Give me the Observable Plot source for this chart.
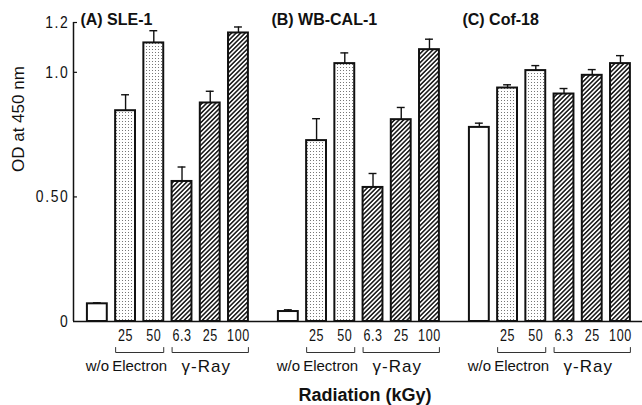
<!DOCTYPE html>
<html><head><meta charset="utf-8">
<script src="https://cdn.jsdelivr.net/npm/d3@7"></script>
<script src="https://cdn.jsdelivr.net/npm/@observablehq/plot@0.6"></script>
<style>
body{margin:0;background:#fff;}
</style></head><body>
<svg width="0" height="0" style="position:absolute">
<defs>
<pattern id="dots" width="3" height="3" patternUnits="userSpaceOnUse">
<rect width="3" height="3" fill="#fff"/>
<rect x="1" y="1" width="1" height="1" fill="#777"/>
</pattern>
<pattern id="hatch" width="3.2" height="3.2" patternUnits="userSpaceOnUse" patternTransform="rotate(45)">
<rect width="3.2" height="3.2" fill="#fff"/>
<line x1="0.8" y1="0" x2="0.8" y2="3.2" stroke="#111" stroke-width="1.5"/>
</pattern>
</defs></svg>
<div id="chart"></div>
<script>
// ---- data ----
const panels = ["A", "B", "C"];
const panelTitles = ["(A) SLE-1", "(B) WB-CAL-1", "(C) Cof-18"];
const doseLabels = ["", "25", "50", "6.3", "25", "100"];
const treatments = ["none", "electron", "electron", "gamma", "gamma", "gamma"];
const odA = [0.071, 0.846, 1.118, 0.562, 0.877, 1.158];
const errA = [0.004, 0.064, 0.049, 0.058, 0.047, 0.024];
const odB = [0.040, 0.726, 1.035, 0.538, 0.810, 1.091];
const errB = [0.007, 0.088, 0.043, 0.056, 0.049, 0.042];
const odC = [0.779, 0.937, 1.007, 0.913, 0.988, 1.035];
const errC = [0.017, 0.013, 0.020, 0.022, 0.023, 0.032];
const yTickValues = [0, 0.5, 1.0, 1.2];
const yTickLabels = ["0", "0.50", "1.0", "1.2"];
const groupNames = {none: "w/o", electron: "Electron", gamma: "γ-Ray"};
const yLabel = "OD at 450 nm";
const xLabel = "Radiation (kGy)";

// ---- build table ----
const ods = [odA, odB, odC], errs = [errA, errB, errC];
const rows = [];
panels.forEach((p, k) => doseLabels.forEach((d, i) => rows.push({
  panel: p, i, dose: d, treatment: treatments[i], od: ods[k][i], err: errs[k][i], top: ods[k][i] + errs[k][i]
})));

const W = 642, H = 405, mT = 22, mB = 84, mL = 72;
const yMax = 1.2;
const pxPerUnit = (H - mT - mB) / yMax;
const half = 0.352;
const xDomain = [-0.845, 5.71];
const regular = "'Liberation Sans',Arial,Helvetica,sans-serif";

const groupRows = [], bracketPts = [];
panels.forEach(p => {
  for (const t of ["none", "electron", "gamma"]) {
    const idx = treatments.map((v, i) => v === t ? i : null).filter(v => v !== null);
    groupRows.push({panel: p, x: d3.mean(idx), label: groupNames[t], t});
    if (t !== "none") {
      const a = d3.min(idx) - half, b = d3.max(idx) + half;
      const tk = -26 / pxPerUnit, ln = -31 / pxPerUnit;
      [[a, tk], [a, ln], [b, ln], [b, tk]].forEach(([x, y]) => bracketPts.push({panel: p, g: p + t, x, y}));
    }
  }
});
const titleRows = panels.map((p, k) => ({panel: p, title: panelTitles[k]}));
const axisRows = [{panel: "A"}];
const innerTicks = yTickValues.filter(v => v > 0).map(v => ({panel: "A", y: v}));

const fills = {none: "white", electron: "url(#dots)", gamma: "url(#hatch)"};

const chart = Plot.plot({
  width: W, height: H,
  marginLeft: mL, marginRight: 0, marginTop: mT, marginBottom: mB,
  style: {fontFamily: regular, background: "white", color: "#111"},
  fx: {domain: panels, paddingInner: 0.03, paddingOuter: 0, axis: null, label: null},
  x: {domain: xDomain, axis: null},
  y: {domain: [0, yMax]},
  marks: [
    ...["none", "electron", "gamma"].map(t => Plot.rect(rows.filter(r => r.treatment === t), {
      fx: "panel", x1: r => r.i - half, x2: r => r.i + half, y1: 0, y2: "od",
      fill: fills[t], stroke: "#111", strokeWidth: 2
    })),
    Plot.ruleX(rows, {fx: "panel", x: "i", y1: "od", y2: "top", stroke: "#111", strokeWidth: 1.4}),
    Plot.ruleY(rows, {fx: "panel", y: "top", x1: r => r.i - 0.14, x2: r => r.i + 0.14, stroke: "#111", strokeWidth: 1.4}),
    Plot.ruleY([0], {stroke: "#111", strokeWidth: 1.5, insetRight: -6}),
    Plot.ruleX(axisRows, {fx: "panel", x: xDomain[0], y1: 0, y2: yMax, stroke: "#111", strokeWidth: 1.5}),
    Plot.ruleY(innerTicks, {fx: "panel", y: "y", x1: xDomain[0], x2: xDomain[0] + 4 / 28.4, stroke: "#111", strokeWidth: 1.2}),
    Plot.axisY(yTickValues, {tickFormat: d => yTickLabels[yTickValues.indexOf(d)], tickSize: 0, tickPadding: 4,
      fontSize: 17, fill: "#111"}),
    Plot.text([{panel: "A", t: yLabel}], {fx: "panel", text: "t", frameAnchor: "left", rotate: -90, dx: -55,
      fontSize: 17, fill: "#111"}),
    Plot.text(titleRows, {fx: "panel", x: -0.6, y: yMax, text: "title", textAnchor: "start", dy: -3,
      fontSize: 16, fontWeight: "bold", fill: "#111"}),
    Plot.text(rows, {fx: "panel", x: "i", y: 0, text: "dose", dy: 14, lineAnchor: "middle",
      fontSize: 17, fill: "#111", ariaDescription: "dose-labels"}),
    Plot.line(bracketPts, {fx: "panel", x: "x", y: "y", z: "g", stroke: "#333", strokeWidth: 1}),
    Plot.text(groupRows.filter(g => g.t !== "gamma"), {fx: "panel", x: "x", y: 0, text: "label", dy: 45, lineAnchor: "middle",
      fontSize: 15, fill: "#111"}),
    Plot.text(groupRows.filter(g => g.t === "gamma"), {fx: "panel", x: "x", y: 0, text: "label", dy: 45, dx: -4,
      lineAnchor: "middle", fontSize: 17, fill: "#111", ariaDescription: "gamma-labels"}),
    Plot.text([{panel: "B", t: xLabel}], {fx: "panel", text: "t", frameAnchor: "bottom", dx: 8, dy: 74,
      lineAnchor: "middle", fontSize: 18, fontWeight: "bold", fill: "#111"})
  ]
});
document.getElementById("chart").appendChild(chart);

// condensed digit style of the original figure
function condense(selector, sx, spacing) {
  chart.querySelectorAll(selector).forEach(t => {
    const tr = t.getAttribute("transform") || "";
    t.setAttribute("transform", (tr + ` scale(${sx},1)`).trim());
    const x = t.getAttribute("x");
    if (x) t.setAttribute("x", +x / sx);
    if (spacing) t.style.letterSpacing = spacing;
  });
}
condense('g[aria-description="dose-labels"] text', 0.74, "0.8px");
condense('g[aria-label="y-axis tick label"] text', 0.82, "2px");
chart.querySelectorAll('g[aria-description="gamma-labels"] text').forEach(t => t.style.letterSpacing = "1px");
</script>
</body></html>
